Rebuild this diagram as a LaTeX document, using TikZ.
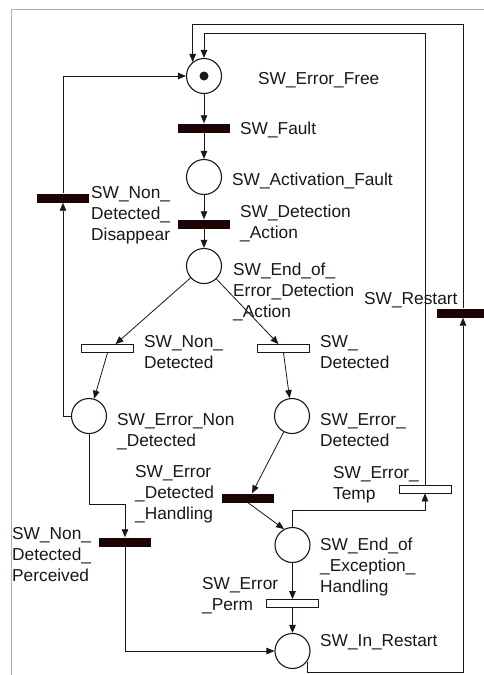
\documentclass[tikz,border=0pt]{standalone}
\usepackage{fontspec}
\setmainfont{Liberation Sans}
\usetikzlibrary{arrows.meta}
\definecolor{ink}{RGB}{30,22,22}
\definecolor{barc}{RGB}{28,4,4}
\definecolor{framec}{RGB}{175,175,175}
\newcommand{\mlines}[1]{\begin{tabular}[t]{@{}l@{}}#1\end{tabular}}
\begin{document}
\begin{tikzpicture}[x=1pt,y=-1pt,
  place/.style={circle,draw=ink,line width=1.1pt,fill=white,minimum size=35pt,inner sep=0pt},
  bart/.style={rectangle,fill=barc,minimum width=52pt,minimum height=9pt,inner sep=0pt},
  opent/.style={rectangle,draw=ink,fill=white,line width=0.8pt,minimum width=52pt,minimum height=8pt,inner sep=0pt},
  lab/.style={anchor=base west,inner sep=0pt,text=ink,font=\fontsize{17.3}{21}\selectfont},
  arc/.style={draw=ink,line width=0.8pt,-{Triangle[length=8pt,width=6.5pt]}},
  framel/.style={draw=framec,line width=0.8pt}]
\useasboundingbox (0,0) rectangle (484,675);
\clip (0,0) rectangle (484,675);
\fill[white] (0,0) rectangle (484,675);
% frame
\coordinate (fa) at (11,675);
\coordinate (fb) at (11,9);
\coordinate (fc) at (484,9);
\draw[framel] (fa) -- (fb) -- (fc);
% helper levels
\coordinate (yout) at (0,24);
\coordinate (yin) at (0,33);
\coordinate (ybot) at (0,672);
% places and transitions
\node[place] (p1) at (204,76) {};
\fill[ink] (p1) circle (4.5pt);
\node[bart] (tFault) at (204,128) {};
\node[place] (p2) at (204,177) {};
\node[bart] (tDetAct) at (204,224) {};
\node[place] (p3) at (204,266) {};
\node[bart] (tDisap) at (63,198) {};
\node[opent] (tNonDet) at (107.5,348.5) {};
\node[opent] (tDet) at (283.5,348.5) {};
\node[bart] (tRestart) at (463,313) {};
\node[place] (p4) at (89,416) {};
\node[place] (p5) at (292,416) {};
\node[bart] (tHand) at (248,498) {};
\node[opent] (tTemp) at (425,489) {};
\node[bart] (tPerc) at (125,542) {};
\node[place] (p6) at (292.5,545) {};
\node[opent] (tPerm) at (292.5,603.5) {};
\node[place] (p7) at (292.5,651) {};
% arcs
\draw[arc] (p1) -- (tFault);
\draw[arc] (tFault) -- (p2);
\draw[arc] (p2) -- (tDetAct);
\draw[arc] (tDetAct) -- (p3);
\draw[arc] (p3) -- ([xshift=8pt]tNonDet.north);
\draw[arc] (p3) -- ([xshift=-5pt]tDet.north);
\draw[arc] (tNonDet.south) -- (p4);
\draw[arc] (tDet.south) -- (p5);
\draw[arc] (p4.west) -| (tDisap.south);
\draw[arc] (tDisap.north) |- (p1.west);
\draw[arc] (p4.south) -- ++(0,70) -| (tPerc.north);
\draw[arc] (tPerc.south) |- (p7.west);
\draw[arc] (p5) -- ([xshift=4pt]tHand.north);
\draw[arc] (tHand.south) -- (p6.118);
\draw[arc] (p6.north) -- ++(0,-16.5) -| (tTemp.south);
\draw[arc] (tTemp.north) -- (tTemp.north |- yin) -- (p1.north |- yin) -- (p1.north);
\draw[arc] (tRestart.north) -- (tRestart.north |- yout) -- (p1.129 |- yout) -- (p1.129);
\draw[arc] (p6) -- (tPerm);
\draw[arc] (tPerm) -- (p7);
\draw[arc] (p7.-37) -- (p7.-37 |- ybot) -| (tRestart.south);
% labels
\node[lab] (lFree) at (258,84) {SW\_Error\_Free};
\node[lab] (lFault) at (240,134) {SW\_Fault};
\node[lab] (lAct) at (232,185) {SW\_Activation\_Fault};
\node[lab] (lDisap) at (91,198) {\mlines{SW\_Non\_\\Detected\_\\Disappear}};
\node[lab] (lDetAct) at (240,217) {\mlines{SW\_Detection\\\_Action}};
\node[lab] (lEndErr) at (233,275) {\mlines{SW\_End\_of\_\\Error\_Detection\\\_Action}};
\node[lab] (lRestart) at (364,304) {SW\_Restart};
\node[lab] (lNonDet) at (144,347) {\mlines{SW\_Non\_\\Detected}};
\node[lab] (lDet) at (320,347) {\mlines{SW\_\\Detected}};
\node[lab] (lErrNon) at (117,425) {\mlines{SW\_Error\_Non\\\_Detected}};
\node[lab] (lErrDet) at (320,425) {\mlines{SW\_Error\_\\Detected}};
\node[lab] (lHand) at (135,477) {\mlines{SW\_Error\\\_Detected\\\_Handling}};
\node[lab] (lTemp) at (333,478) {\mlines{SW\_Error\_\\Temp}};
\node[lab] (lPerc) at (12,539) {\mlines{SW\_Non\_\\Detected\_\\Perceived}};
\node[lab] (lEndExc) at (320,550) {\mlines{SW\_End\_of\\\_Exception\_\\Handling}};
\node[lab] (lPerm) at (202,589) {\mlines{SW\_Error\\\_Perm}};
\node[lab] (lInRestart) at (320,646) {SW\_In\_Restart};
\end{tikzpicture}
\end{document}
